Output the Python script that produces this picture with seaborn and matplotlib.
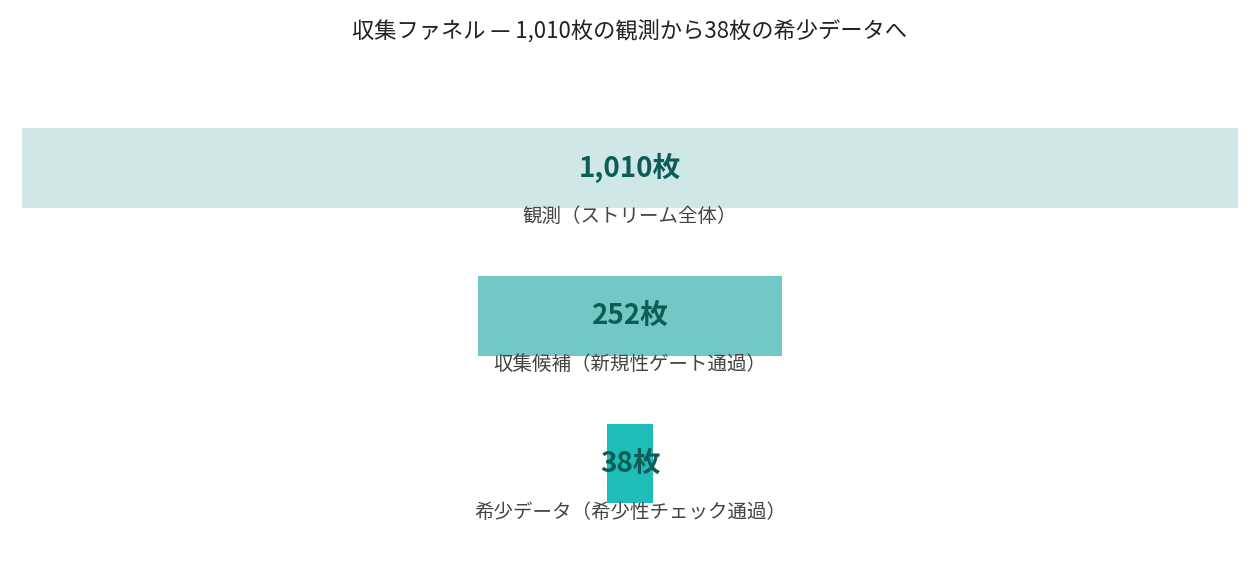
import matplotlib.pyplot as plt
import seaborn as sns
import pandas as pd

stages = ["観測（ストリーム全体）", "収集候補（新規性ゲート通過）", "希少データ（希少性チェック通過）"]
counts = [1010, 252, 38]
value_labels = ["1,010枚", "252枚", "38枚"]
colors = ["#d0e8e5", "#72c8c4", "#1fbdb7"]

sns.set_theme(style="white")
plt.rcParams["font.family"] = ["Noto Sans CJK JP", "DejaVu Sans"]

df = pd.DataFrame({"stage": stages, "count": counts})

fig = plt.figure(figsize=(12.6, 5.88), dpi=100)
ax = fig.add_axes([22 / 1260, 1 - 537.5 / 588, 1216 / 1260, 443.5 / 588])

for i, (c, col) in enumerate(zip(df["count"], colors)):
    ax.barh(i, c, left=-c / 2, height=0.54, color=col, edgecolor="none")
    ax.text(0, i, value_labels[i], ha="center", va="center",
            fontsize=20, fontweight="bold", color="#0d5c58")
    ax.text(0, i + 0.33, df["stage"][i], ha="center", va="center",
            fontsize=14, color="#444444")

ax.set_xlim(-max(counts) / 2, max(counts) / 2)
ax.set_ylim(2.5, -0.5)
ax.axis("off")

fig.text(0.5, 1 - 31 / 588, "収集ファネル — 1,010枚の観測から38枚の希少データへ",
         ha="center", va="center", fontsize=16, color="#222222")

fig.savefig("out.png", dpi=100)
